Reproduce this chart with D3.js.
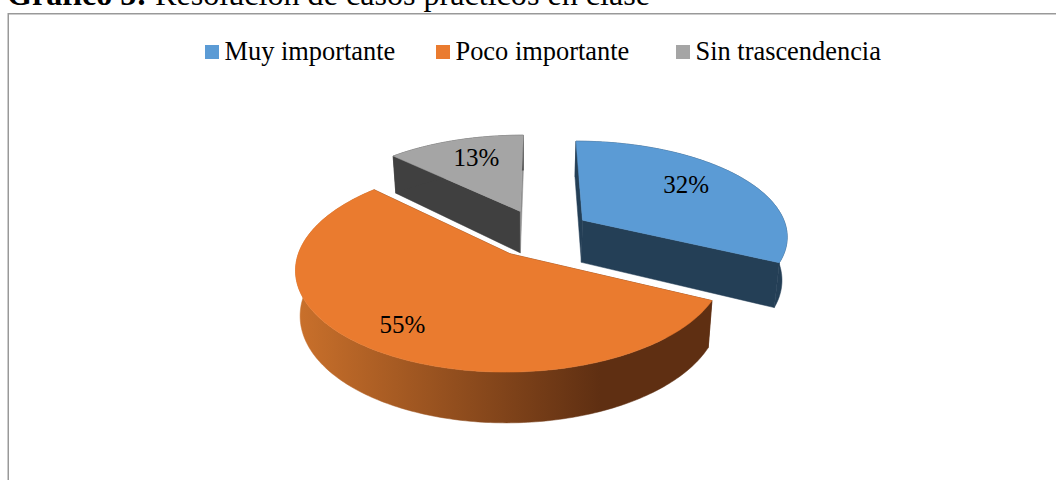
<!DOCTYPE html>
<html lang="es">
<head>
<meta charset="utf-8">
<script src="https://cdn.jsdelivr.net/npm/d3@7/dist/d3.min.js"></script>
<style>
html,body{margin:0;padding:0;background:#fff;overflow:hidden}
svg{display:block}
text{font-family:"Liberation Serif","Times New Roman",serif;fill:#000}
</style>
</head>
<body>
<svg id="chart" width="1056" height="480"></svg>
<script>
const categories = ["Muy importante", "Poco importante", "Sin trascendencia"];
const values = [32, 55, 13];
const labels = ["32%", "55%", "13%"];
const titleBold = "Gráfico 5:";
const titleRest = " Resolución de casos prácticos en clase";

const topColors = ["#5b9bd5", "#ea7b2f", "#a5a5a5"];
const sideColors = ["#243f56", "#63300f", "#404040"];
const legendX = [205, 436, 676];
const labelRadius = [0.70, 0.77, 0.72];
const labelShift = [-4, 2, 2.4];

const W = 1056, H = 480;
const cx = 540, cy = 233, R = 205.5, Ry = 97.6, K = 0.15, DEPTH = 43, EXPLODE = 0.25;
const VANISH_X = 525, PINCH = 0.02;

const svg = d3.select("#chart");
const defs = svg.append("defs");
const grad = defs.append("linearGradient").attr("id", "rim")
  .attr("gradientUnits", "userSpaceOnUse")
  .attr("x1", 298).attr("x2", 600).attr("y1", 0).attr("y2", 0);
grad.append("stop").attr("offset", 0).attr("stop-color", "#c9702b");
grad.append("stop").attr("offset", 1).attr("stop-color", "#5f2f12");

// frame: only the left and top edges fall inside the page
svg.append("rect").attr("x", 8.25).attr("y", 13.75).attr("width", 1060).attr("height", 480)
  .attr("fill", "#fff").attr("stroke", "#999").attr("stroke-width", 1.5);

// title (clipped by the top of the page, as in the reference)
const title = svg.append("text").attr("x", 7).attr("y", 5).attr("font-size", 32).attr("textLength", 643).attr("lengthAdjust", "spacingAndGlyphs");
title.append("tspan").attr("font-weight", "bold").text(titleBold);
title.append("tspan").text(titleRest);

// legend
const legend = svg.append("g").selectAll("g").data(categories).join("g")
  .attr("transform", (d, i) => `translate(${legendX[i]},0)`);
legend.append("rect").attr("x", 0).attr("y", 45).attr("width", 14).attr("height", 14)
  .attr("fill", (d, i) => topColors[i]);
legend.append("text").attr("x", 19.5).attr("y", 60).attr("font-size", 26.4).text(d => d);

// projection of the tilted disc
const xScale = d3.scaleLinear().domain([-1, 1]).range([cx - R, cx + R]);
const yScale = d3.scaleLinear().domain([-1, 1]).range([cy + Ry, cy - Ry]);
function project(u, v, drop) {
  const s = 1 - K * v;
  const x = cx + (xScale(u) - cx) * s;
  return [VANISH_X + (x - VANISH_X) * (1 - PINCH * drop / DEPTH), cy + (yScale(v) - cy) * s + drop * s];
}
function polar(a, r, ox, oy) { return [ox + r * Math.sin(a), oy + r * Math.cos(a)]; }

const pie = d3.pie().sort(null).startAngle(0).endAngle(2 * Math.PI);
const arcs = pie(values);
const line = d3.line();
const STEP = Math.PI / 180;

function arcPoints(a0, a1, ox, oy, drop) {
  const n = Math.max(2, Math.ceil(Math.abs(a1 - a0) / STEP));
  return d3.range(n + 1).map(i => {
    const [u, v] = polar(a0 + (a1 - a0) * i / n, 1, ox, oy);
    return project(u, v, drop);
  });
}

// back-to-front: grey, blue, orange
const g = svg.append("g");
[2, 0, 1].forEach(i => {
  const a = arcs[i], mid = (a.startAngle + a.endAngle) / 2;
  const [ox, oy] = polar(mid, EXPLODE, 0, 0);
  const apexTop = project(ox, oy, 0), apexBot = project(ox, oy, DEPTH);
  const side = sideColors[i];
  const rimFill = i === 1 ? "url(#rim)" : side;
  const radial = (ang, fill) => {
    const [u, v] = polar(ang, 1, ox, oy);
    g.append("path").attr("d", line([apexTop, project(u, v, 0), project(u, v, DEPTH), apexBot]) + "Z")
      .attr("fill", fill).attr("stroke", fill).attr("stroke-width", 0.5);
  };
  radial(a.startAngle, i === 0 ? side : (i === 1 ? "#5f2f12" : "#404040"));
  radial(a.endAngle, i === 2 ? "#8d8d8d" : side);
  const topArc = arcPoints(a.startAngle, a.endAngle, ox, oy, 0);
  const botArc = arcPoints(a.endAngle, a.startAngle, ox, oy, DEPTH);
  g.append("path").attr("d", line(topArc.concat(botArc)) + "Z")
    .attr("fill", rimFill).attr("stroke", rimFill).attr("stroke-width", 0.5);
  g.append("path").attr("d", line([apexTop].concat(topArc)) + "Z")
    .attr("fill", topColors[i]).attr("stroke", topColors[i]).attr("stroke-width", 0.5);
});

// data labels
arcs.forEach((a, i) => {
  const mid = (a.startAngle + a.endAngle) / 2;
  const [ox, oy] = polar(mid, EXPLODE, 0, 0);
  const [u, v] = polar(mid + labelShift[i] * Math.PI / 180, labelRadius[i], ox, oy);
  const [x, y] = project(u, v, 0);
  svg.append("text").attr("x", x).attr("y", y).attr("dy", "0.36em")
    .attr("text-anchor", "middle").attr("font-size", 25).text(labels[i]);
});
</script>
</body>
</html>
